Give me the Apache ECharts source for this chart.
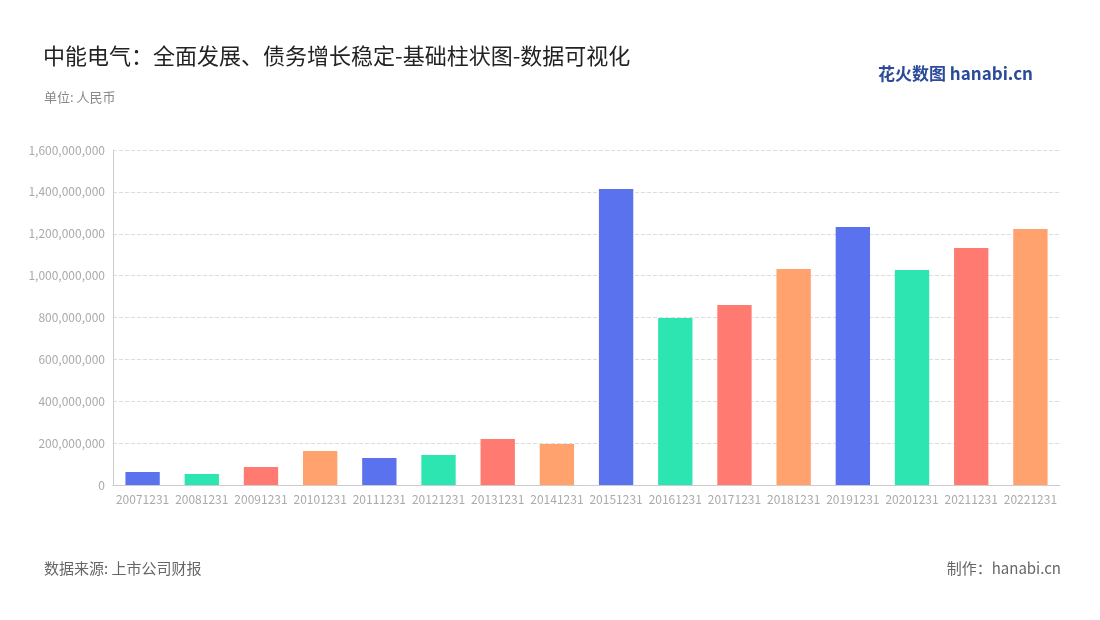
<!DOCTYPE html><html><head><meta charset="utf-8">
<script src="https://cdn.jsdelivr.net/npm/echarts@6/dist/echarts.min.js"></script>
<style>html,body{margin:0;padding:0;background:#fff}#c{width:1100px;height:620px}</style></head><body><div id="c"></div>
<script>
const categories=['20071231','20081231','20091231','20101231','20111231','20121231','20131231','20141231','20151231','20161231','20171231','20181231','20191231','20201231','20211231','20221231'];
const values=[62e6,53e6,86e6,162e6,129e6,143e6,220e6,196e6,1414e6,798e6,860e6,1032e6,1232e6,1027e6,1132e6,1223e6];
const colors=['#5b72ee','#2de5b0','#ff7b72','#ffa26e'];
const ch=echarts.init(document.getElementById('c'));
const f='"Noto Sans CJK SC","Noto Sans",sans-serif';
ch.setOption({
 textStyle:{fontFamily:f},
 title:[{text:'中能电气：全面发展、债务增长稳定-基础柱状图-数据可视化',left:38,top:40,textStyle:{fontSize:22,fontWeight:'normal',color:'#222',fontFamily:f}},
 {text:'单位: 人民币',left:39,top:86,textStyle:{fontSize:13,fontWeight:'normal',color:'#888',fontFamily:f}},
 {text:'数据来源: 上市公司财报',left:39,top:556,textStyle:{fontSize:15,fontWeight:'normal',color:'#666',fontFamily:f}},
 {text:'制作：hanabi.cn',right:34,top:556,textStyle:{fontSize:15,fontWeight:'normal',color:'#666',fontFamily:f}},
 {text:'花火数图 hanabi.cn',right:62,top:60,textStyle:{fontSize:17,fontWeight:'bold',color:'#2b4a9a',fontFamily:f}}],
 grid:{left:113,right:40,top:150,bottom:135},
 xAxis:{type:'category',data:categories,axisTick:{show:false},axisLine:{lineStyle:{color:'#ccc'}},axisLabel:{color:'#aaa',fontSize:12,interval:0,margin:8}},
 yAxis:{type:'value',min:0,max:1600000000,interval:200000000,axisLine:{show:true,lineStyle:{color:'#ccc'}},splitLine:{lineStyle:{type:'dashed',color:'#ddd'}},axisLabel:{color:'#aaa',fontSize:12,formatter:v=>v.toLocaleString('en-US')}},
 series:[{type:'bar',barWidth:'58%',data:values.map((v,i)=>({value:v,itemStyle:{color:colors[i%4]}}))}]
});
</script></body></html>
